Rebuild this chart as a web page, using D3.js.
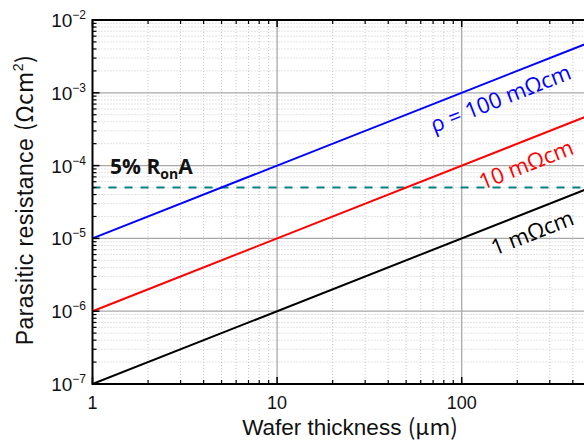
<!DOCTYPE html>
<html><head><meta charset="utf-8">
<script src="https://cdn.jsdelivr.net/npm/d3@7"></script>
<style>body{margin:0;background:#fff}svg{display:block}</style>
</head><body>
<svg id="c" width="584" height="443"></svg>
<script>
// Data
const thickness = [1, 1000];                 // µm
const rho100 = [1e-5, 1e-2];                 // Ωcm² for ρ = 100 mΩcm
const rho10  = [1e-6, 1e-3];                 // ρ = 10 mΩcm
const rho1   = [1e-7, 1e-4];                 // ρ = 1 mΩcm
const limit5pct = 5e-5;                      // 5% RonA
const xTicks = [1, 10, 100];
const xTickLabels = ["1", "10", "100"];
const yTicks = [1e-7, 1e-6, 1e-5, 1e-4, 1e-3, 1e-2];
const yTickExps = ["−7", "−6", "−5", "−4", "−3", "−2"];
const seriesLabels = ["ρ = 100 mΩcm", "10 mΩcm", "1 mΩcm"];
const seriesColors = ["#0000ff", "#ff0000", "#000000"];
const labelAnchors = [[70.8, 2.81e-4], [130, 4.64e-5], [151, 5.77e-6]];

const svg = d3.select("#c");
const L = 92.5, T = 20, B = 384;
const decadeX = 184.6;
const x = d3.scaleLog().domain([1, 1000]).range([L, L + 3 * decadeX]);
const y = d3.scaleLog().domain([1e-7, 1e-2]).range([B, T]);
const R = x.range()[1];

svg.append("clipPath").attr("id", "clip").append("rect")
  .attr("x", L).attr("y", T).attr("width", R - L).attr("height", B - T);

// minor grid
const minorX = [], minorY = [];
for (let d = 1; d < 1000; d *= 10) for (let k = 2; k <= 9; k++) minorX.push(d * k);
for (let d = 1e-7; d < 1e-2 * 0.99; d *= 10) for (let k = 2; k <= 9; k++) minorY.push(d * k);
const g = svg.append("g").attr("clip-path", "url(#clip)");
g.selectAll(".mx").data(minorX).join("line")
  .attr("x1", d => x(d)).attr("x2", d => x(d)).attr("y1", T).attr("y2", B)
  .attr("stroke", "#c8c8c8").attr("stroke-width", 1).attr("stroke-dasharray", "1,2");
g.selectAll(".my").data(minorY).join("line")
  .attr("x1", L).attr("x2", R).attr("y1", d => y(d)).attr("y2", d => y(d))
  .attr("stroke", "#c8c8c8").attr("stroke-width", 1).attr("stroke-dasharray", "1,2");
// major grid
g.selectAll(".Mx").data([10, 100]).join("line")
  .attr("x1", d => x(d)).attr("x2", d => x(d)).attr("y1", T).attr("y2", B)
  .attr("stroke", "#a8a8a8").attr("stroke-width", 1.3);
g.selectAll(".My").data(yTicks.slice(1, -1)).join("line")
  .attr("x1", L).attr("x2", R).attr("y1", d => y(d)).attr("y2", d => y(d))
  .attr("stroke", "#a8a8a8").attr("stroke-width", 1.3);

// dashed 5% line
g.append("line").attr("x1", L).attr("x2", R)
  .attr("y1", y(limit5pct)).attr("y2", y(limit5pct))
  .attr("stroke", "#008080").attr("stroke-width", 2).attr("stroke-dasharray", "8,8");

// series lines
const line = d3.line().x(d => x(d[0])).y(d => y(d[1]));
[rho100, rho10, rho1].forEach((vals, i) => {
  g.append("path").datum(thickness.map((t, j) => [t, vals[j]]))
    .attr("d", line).attr("fill", "none")
    .attr("stroke", seriesColors[i]).attr("stroke-width", 2);
});

// axes frame
const ax = svg.append("g");
ax.append("line").attr("x1", L).attr("x2", L).attr("y1", T - 1).attr("y2", B + 1).attr("stroke", "#000").attr("stroke-width", 2);
ax.append("line").attr("x1", L).attr("x2", R).attr("y1", B).attr("y2", B).attr("stroke", "#000").attr("stroke-width", 2);
ax.append("line").attr("x1", L).attr("x2", R).attr("y1", T).attr("y2", T).attr("stroke", "#000").attr("stroke-width", 2);
// ticks
const majorXt = [1, 10, 100, 1000];
majorXt.forEach(v => {
  ax.append("line").attr("x1", x(v)).attr("x2", x(v)).attr("y1", B).attr("y2", B - 7).attr("stroke", "#000").attr("stroke-width", 1.5);
  ax.append("line").attr("x1", x(v)).attr("x2", x(v)).attr("y1", T).attr("y2", T + 7).attr("stroke", "#000").attr("stroke-width", 1.5);
});
minorX.forEach(v => {
  ax.append("line").attr("x1", x(v)).attr("x2", x(v)).attr("y1", B).attr("y2", B - 4).attr("stroke", "#000").attr("stroke-width", 1.2);
  ax.append("line").attr("x1", x(v)).attr("x2", x(v)).attr("y1", T).attr("y2", T + 4).attr("stroke", "#000").attr("stroke-width", 1.2);
});
yTicks.forEach(v => {
  ax.append("line").attr("x1", L).attr("x2", L + 7).attr("y1", y(v)).attr("y2", y(v)).attr("stroke", "#000").attr("stroke-width", 1.5);
});
minorY.forEach(v => {
  ax.append("line").attr("x1", L).attr("x2", L + 4).attr("y1", y(v)).attr("y2", y(v)).attr("stroke", "#000").attr("stroke-width", 1.2);
});

const font = "'Liberation Sans', Arial, sans-serif";
// x tick labels
xTicks.forEach((v, i) => {
  svg.append("text").attr("x", x(v)).attr("y", 409).attr("text-anchor", "middle")
    .attr("font-family", font).attr("font-size", 18).attr("fill", "#111").text(xTickLabels[i]);
});
// y tick labels
yTicks.forEach((v, i) => {
  const t = svg.append("text").attr("x", 86).attr("y", y(v) + 7).attr("text-anchor", "end")
    .attr("font-family", font).attr("font-size", 19).attr("fill", "#111");
  t.append("tspan").text("10");
  t.append("tspan").attr("dy", -8).attr("font-size", 12).text(yTickExps[i]);
});

// axis titles
const xt = svg.append("text").attr("x", 350).attr("y", 435).attr("text-anchor", "middle")
  .attr("font-family", font).attr("font-size", 22.5).attr("fill", "#111");
xt.append("tspan").text("Wafer thickness ");
xt.append("tspan").attr("font-family", "'Noto Sans CJK JP', sans-serif").text("(μm)");

const yt = svg.append("text").attr("transform", "translate(33,200) rotate(-90)").attr("text-anchor", "middle")
  .attr("font-family", font).attr("font-size", 23).attr("letter-spacing", 0.4).attr("fill", "#111");
yt.append("tspan").text("Parasitic resistance ");
yt.append("tspan").attr("font-family", "'Noto Sans CJK JP', sans-serif").text("(Ωcm");
yt.append("tspan").attr("dy", -10).attr("font-size", 14).text("2");
yt.append("tspan").attr("dy", 10).attr("font-family", "'Noto Sans CJK JP', sans-serif").text(")");

// 5% RonA label
const lbl = svg.append("text").attr("x", x(1.244)).attr("y", y(7.7e-5))
  .attr("font-family", "'Open Sans', sans-serif").attr("font-weight", "bold").attr("font-size", 21).attr("fill", "#111");
lbl.append("tspan").text("5% R");
lbl.append("tspan").attr("dy", 5).attr("font-size", 14).text("on");
lbl.append("tspan").attr("dy", -5).text("A");

// rotated series labels
const angle = -Math.atan((y(1e-5) - y(1e-4)) / (x(10) - x(1))) * 180 / Math.PI;
labelAnchors.forEach((p, i) => {
  svg.append("text")
    .attr("transform", `translate(${x(p[0])},${y(p[1])}) rotate(${angle})`)
    .attr("font-family", "'Open Sans', sans-serif").attr("font-size", 22)
    .attr("fill", seriesColors[i]).text(seriesLabels[i]);
});
</script>
</body></html>
